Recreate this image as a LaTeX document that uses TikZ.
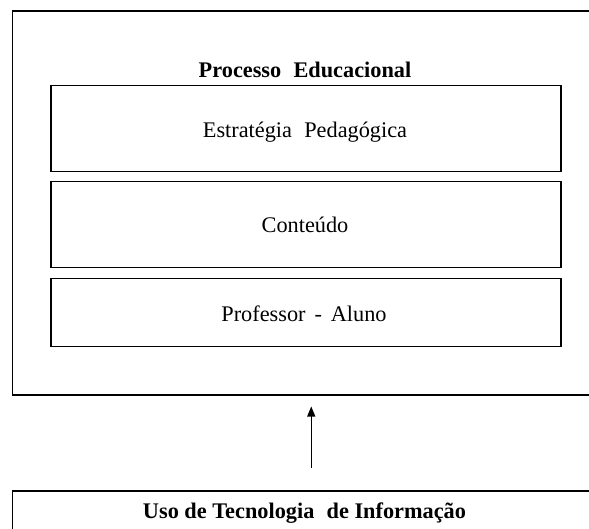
\documentclass[tikz,border=0pt]{standalone}
\usepackage{fontspec}
\setmainfont{Liberation Serif}
\usetikzlibrary{arrows.meta}
\begin{document}
\begin{tikzpicture}[x=1pt,y=-1pt,
  frame/.style={draw=black,line width=1.5pt,rectangle,inner sep=0pt,anchor=north west},
  lbl/.style={anchor=base,inner sep=0pt,font=\fontsize{22.3}{26}\selectfont},
  arr/.style={line width=1.2pt,-{Triangle[length=10pt,width=8pt]}}]
\clip (0,0) rectangle (589,529);
\node[frame,minimum width=587pt,minimum height=383.5pt] (outer) at (11.5,10.5) {};
\node[frame,minimum width=510pt,minimum height=85.7pt] (b1) at (50,85) {};
\node[frame,minimum width=510pt,minimum height=85.7pt] (b2) at (50,181) {};
\node[frame,minimum width=510pt,minimum height=68pt] (b3) at (50,277.7) {};
\node[frame,minimum width=587pt,minimum height=60pt] (tech) at (11.5,490) {};
\node[lbl] (title) at (305,78) {\bfseries Processo\hspace{0.55em}Educacional};
\node[lbl] (t1) at (305,138) {Estratégia\hspace{0.55em}Pedagógica};
\node[lbl] (t2) at (305,233) {Conteúdo};
\node[lbl] (t3) at (304,321.5) {Professor\hspace{0.4em}-\hspace{0.4em}Aluno};
\node[lbl] (t4) at (304.5,518) {\bfseries Uso de Tecnologia\hspace{0.55em}de Informação};
\draw[arr] ([xshift=5.5pt,yshift=22pt]tech.north) -- ([xshift=5.5pt,yshift=-11pt]outer.south);
\end{tikzpicture}
\end{document}
